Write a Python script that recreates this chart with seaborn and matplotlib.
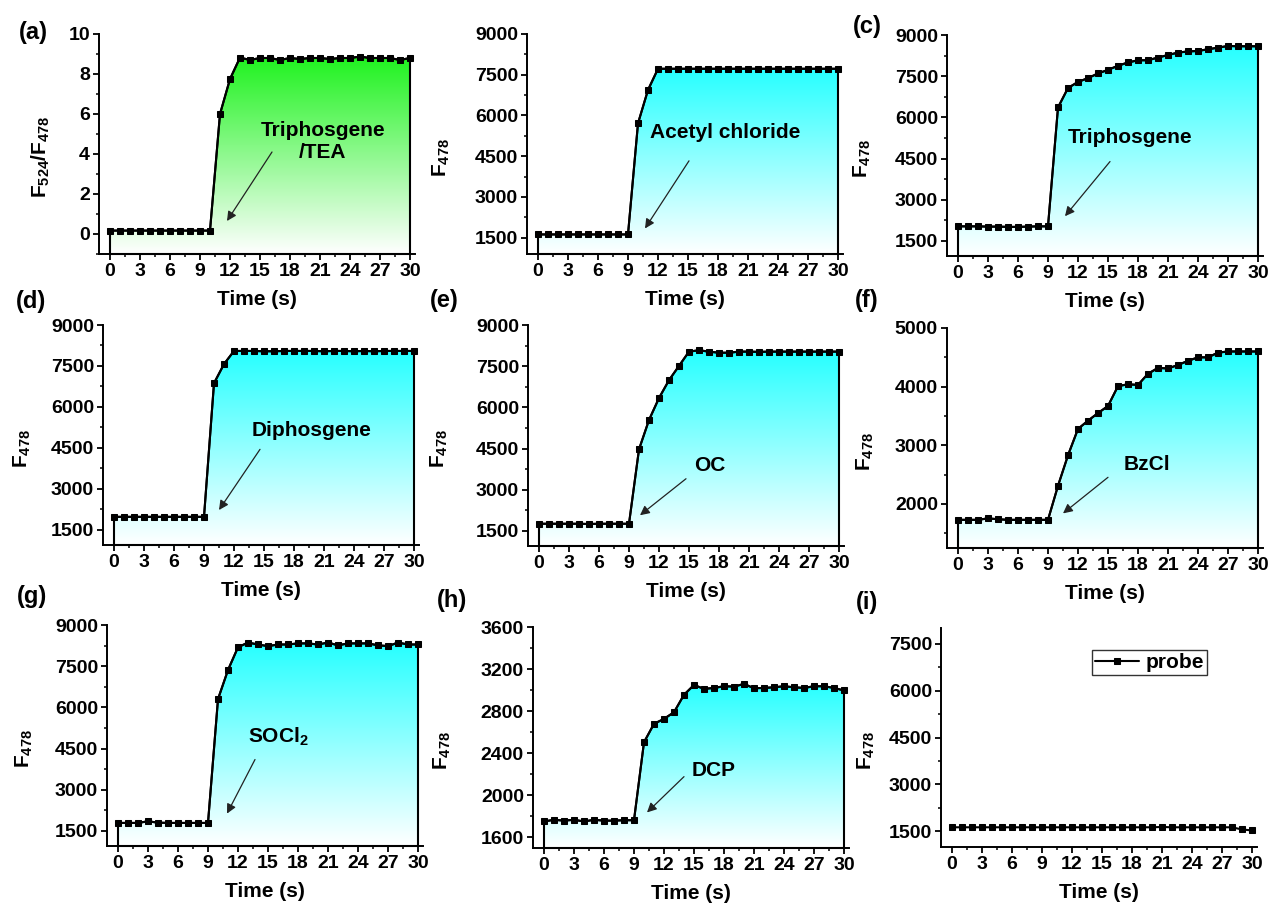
import numpy as np
import matplotlib
matplotlib.use("Agg")
import matplotlib.pyplot as plt
import seaborn as sns
from matplotlib.patches import Polygon
from matplotlib.ticker import MultipleLocator

# Time axis (s)
time_s = [0, 1, 2, 3, 4, 5, 6, 7, 8, 9, 10, 11, 12, 13, 14, 15, 16, 17, 18, 19,
          20, 21, 22, 23, 24, 25, 26, 27, 28, 29, 30]

# (a) F524/F478 ratio, triphosgene/TEA
ratio_triphosgene_tea = [0.17, 0.17, 0.17, 0.17, 0.17, 0.17, 0.17, 0.17, 0.17, 0.17, 0.17,
                         6.0, 7.75, 8.82, 8.7, 8.8, 8.8, 8.7, 8.8, 8.75, 8.8,
                         8.8, 8.75, 8.8, 8.8, 8.87, 8.8, 8.8, 8.8, 8.7, 8.8]
# (b) acetyl chloride
f478_acetyl_chloride = [1620, 1620, 1620, 1620, 1620, 1620, 1620, 1620, 1620, 1620,
                        5710, 6940, 7720, 7720, 7720, 7720, 7720, 7720, 7720, 7720,
                        7720, 7720, 7720, 7720, 7720, 7720, 7720, 7720, 7720, 7720, 7720]
# (c) triphosgene
f478_triphosgene = [2030, 2030, 2030, 2020, 2020, 2010, 2010, 2020, 2030, 2030,
                    6360, 7070, 7290, 7430, 7600, 7730, 7880, 8000, 8080, 8080,
                    8180, 8270, 8360, 8400, 8420, 8480, 8540, 8600, 8590, 8590, 8590]
# (d) diphosgene
f478_diphosgene = [1980, 1980, 1980, 1980, 1980, 1980, 1980, 1980, 1980, 1980,
                   6870, 7570, 8050, 8050, 8050, 8040, 8040, 8050, 8050, 8050,
                   8050, 8040, 8050, 8050, 8040, 8050, 8040, 8050, 8050, 8050, 8050]
# (e) oxalyl chloride
f478_oc = [1760, 1760, 1760, 1760, 1760, 1750, 1760, 1760, 1760, 1760,
           4470, 5540, 6340, 6990, 7510, 8030, 8080, 8030, 7990, 7990,
           8030, 8030, 8020, 8030, 8030, 8030, 8030, 8030, 8030, 8030, 8030]
# (f) benzoyl chloride
f478_bzcl = [1730, 1730, 1730, 1755, 1740, 1730, 1730, 1730, 1730, 1730,
             2310, 2830, 3280, 3420, 3550, 3670, 4010, 4040, 4030, 4220,
             4320, 4310, 4370, 4440, 4500, 4500, 4580, 4600, 4600, 4600, 4600]
# (g) thionyl chloride
f478_socl2 = [1790, 1790, 1790, 1850, 1800, 1790, 1790, 1790, 1790, 1790,
              6300, 7360, 8190, 8360, 8290, 8230, 8290, 8290, 8330, 8330,
              8290, 8360, 8260, 8330, 8330, 8330, 8260, 8230, 8360, 8290, 8290]
# (h) diethyl chlorophosphate
f478_dcp = [1752, 1768, 1760, 1768, 1752, 1768, 1760, 1760, 1764, 1764,
            2505, 2680, 2727, 2790, 2956, 3049, 3012, 3021, 3037, 3034,
            3059, 3018, 3021, 3027, 3037, 3027, 3021, 3037, 3037, 3021, 2997]
# (i) probe alone
f478_probe = [1630, 1630, 1630, 1630, 1630, 1630, 1630, 1630, 1630, 1630,
              1630, 1630, 1630, 1630, 1630, 1630, 1630, 1630, 1630, 1630,
              1630, 1640, 1630, 1630, 1630, 1630, 1630, 1630, 1630, 1560, 1530]

panel_letters = ["(a)", "", "(c)", "(d)", "(e)", "(f)", "(g)", "(h)", "(i)"]
analyte_labels = ["Triphosgene\n/TEA", "Acetyl chloride", "Triphosgene", "Diphosgene",
                  "OC", "BzCl", r"SOCl$_\mathbf{2}$", "DCP", None]
y_titles = [r"$\mathbf{F}_{524}\mathbf{/F}_{478}$"] + [r"$\mathbf{F}_{478}$"] * 8
x_title = "Time (s)"
legend_label = "probe"

sns.set_style("ticks")
plt.rcParams.update({
    "font.family": ["Liberation Sans", "DejaVu Sans"],
    "font.weight": "bold",
    "text.color": "black",
    "axes.labelcolor": "black",
    "mathtext.fontset": "custom",
    "mathtext.rm": "Liberation Sans",
    "mathtext.it": "Liberation Sans:italic",
    "mathtext.bf": "Liberation Sans:bold",
    "axes.linewidth": 1.4,
    "xtick.major.width": 1.3, "ytick.major.width": 1.3,
    "xtick.minor.width": 1.1, "ytick.minor.width": 1.1,
    "xtick.major.size": 4, "ytick.major.size": 4,
    "xtick.minor.size": 2.3, "ytick.minor.size": 2.3,
    "xtick.direction": "out", "ytick.direction": "out",
    "xtick.color": "black", "ytick.color": "black",
    "xtick.labelcolor": "black", "ytick.labelcolor": "black",
    "axes.edgecolor": "black",
})

W, H = 1269, 910
fig = plt.figure(figsize=(W / 100, H / 100), dpi=100)

# layout in pixels: left spine x, top y, bottom y
boxes = [(99, 34, 254), (527, 34, 254), (947, 35, 256),
         (103, 325, 545), (528, 325, 546), (947, 328, 548),
         (107, 625, 846), (533, 627, 848), (941, 628, 847)]
AX_W = 316

series = [ratio_triphosgene_tea, f478_acetyl_chloride, f478_triphosgene, f478_diphosgene,
          f478_oc, f478_bzcl, f478_socl2, f478_dcp, f478_probe]
ylims = [(-1, 10), (900, 9000), (950, 9000), (950, 9000), (950, 9000),
         (1250, 5000), (950, 9000), (1500, 3600), (1000, 8000)]
y_major = [2, 1500, 1500, 1500, 1500, 1000, 1500, 400, 1500]
y_first = [0, 1500, 1500, 1500, 1500, 2000, 1500, 1600, 1500]
fill_colors = [(0.12, 0.95, 0.12)] + [(0.15, 1.0, 1.0)] * 7 + [None]

# annotation text centre, arrow tail, arrow head (data coords)
text_xy = [(21.3, 4.6), (18.7, 5370), (17.2, 5250), (19.8, 5130), (17.1, 3870),
           (18.9, 2680), (16.0, 4930), (17.0, 2240), None]
arrow_tail = [(16.2, 4.1), (15.1, 4330), (15.2, 4390), (14.6, 4450), (14.7, 3400),
              (15.0, 2455), (13.7, 4100), (14.0, 2178), None]
arrow_head = [(11.7, 0.65), (10.7, 1840), (10.7, 2400), (10.5, 2230), (10.1, 2070),
              (10.5, 1840), (10.9, 2130), (10.3, 1838), None]
ylabel_x = [-0.15, -0.237, -0.234, -0.222, -0.247, -0.225, -0.228, -0.253, -0.203]
letter_pos = [(33, 32), None, (867, 26), (31, 302), (444, 300), (867, 300),
              (32, 596), (452, 600), (867, 602)]


def gradient_area(ax, x, y, ybot, color):
    verts = [(x[0], ybot)] + list(zip(x, y)) + [(x[-1], ybot)]
    outline = Polygon(verts, closed=True, facecolor="none", edgecolor="black",
                      lw=1.5, zorder=2, clip_on=False)
    ax.add_patch(outline)
    n = 256
    frac = np.linspace(0, 1, n)[:, None, None]
    c = np.array(color)[None, None, :]
    rgb = 1 - frac * (1 - c)
    im = ax.imshow(rgb, extent=[x[0], x[-1], ybot, max(y)], origin="lower",
                   aspect="auto", zorder=1, interpolation="bilinear")
    im.set_clip_path(outline)


for i in range(9):
    left, top, bot = boxes[i]
    ax = fig.add_axes([left / W, 1 - bot / H, AX_W / W, (bot - top) / H])
    y = series[i]
    ylo, yhi = ylims[i]
    if fill_colors[i] is not None:
        gradient_area(ax, time_s, y, ylo, fill_colors[i])
    sns.lineplot(x=time_s, y=y, ax=ax, color="black", linewidth=1.5, marker="s",
                 markersize=4.8, markeredgecolor="black", markerfacecolor="black",
                 zorder=3, label=legend_label if i == 8 else None, legend=False)
    ax.set_xlim(-1.1, 30.5)
    ax.set_ylim(ylo, yhi)
    ax.xaxis.set_major_locator(MultipleLocator(3))
    ax.xaxis.set_minor_locator(MultipleLocator(1.5))
    ax.set_yticks(np.arange(y_first[i], yhi + 1e-9, y_major[i]))
    ax.yaxis.set_minor_locator(MultipleLocator(y_major[i] / 2))
    sns.despine(ax=ax)
    ax.tick_params(axis="both", which="major", labelsize=14, pad=2.5)
    for lab in ax.get_xticklabels() + ax.get_yticklabels():
        lab.set_fontweight("bold")
        lab.set_color("black")
    ax.set_xlabel(x_title, fontsize=15, fontweight="bold", labelpad=7, color="black")
    ax.set_ylabel(y_titles[i], fontsize=15, color="black")
    ax.yaxis.set_label_coords(ylabel_x[i], 0.44)
    ax.patch.set_alpha(0)

    if analyte_labels[i] is not None:
        ax.text(*text_xy[i], analyte_labels[i], ha="center", va="center",
                fontsize=15, fontweight="bold", linespacing=1.2, zorder=4,
                color="black")
        ax.annotate("", xy=arrow_head[i], xytext=arrow_tail[i],
                    arrowprops=dict(arrowstyle="-|>", color="#222222", lw=0.9,
                                    mutation_scale=14, shrinkA=0, shrinkB=0),
                    zorder=4)
    if i == 8:
        leg = ax.legend(loc="upper right", bbox_to_anchor=(0.842, 0.9),
                        prop={"weight": "bold", "size": 15}, frameon=True,
                        fancybox=False, handlelength=2.1, handletextpad=0.3,
                        borderpad=0.15, borderaxespad=0)
        leg.get_frame().set_edgecolor("black")
        leg.get_frame().set_linewidth(1.0)
        for t in leg.get_texts():
            t.set_color("black")

    if letter_pos[i] is not None:
        fx, fy = letter_pos[i]
        fig.text(fx / W, 1 - fy / H, panel_letters[i], ha="center", va="center",
                 fontsize=17, fontweight="bold", color="black")

fig.savefig("out.png", dpi=100)
